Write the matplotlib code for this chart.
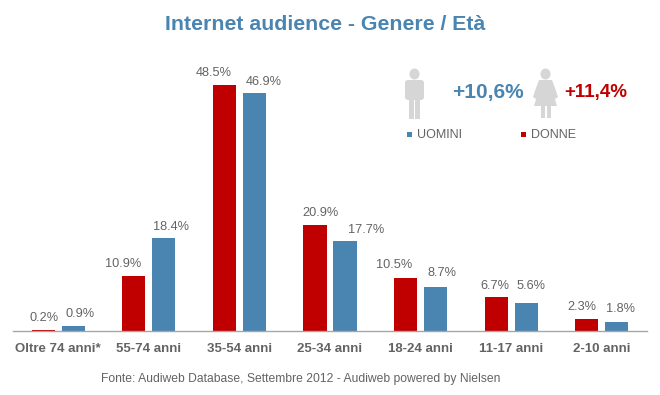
import numpy as np
import matplotlib
matplotlib.use("Agg")
import matplotlib.pyplot as plt
from matplotlib.patches import Ellipse, FancyBboxPatch, Polygon, Rectangle

plt.rcParams['font.family'] = ['Liberation Sans', 'DejaVu Sans']

categories = ['Oltre 74 anni*', '55-74 anni', '35-54 anni', '25-34 anni', '18-24 anni', '11-17 anni', '2-10 anni']
donne = [0.2, 10.9, 48.5, 20.9, 10.5, 6.7, 2.3]
uomini = [0.9, 18.4, 46.9, 17.7, 8.7, 5.6, 1.8]

RED = '#C00000'
BLUE = '#4A84B0'
GREY = '#636363'
ICON = '#D6D6D6'

# labels were moved by hand in the original, so nudge them (pixels from bar centre)
donne_dx = [1, -11, -11, 6, -11, -1, -5]
donne_dy = [6, 6, 6, 6, 7, 5, 6]
uomini_dx = [7, 7, 9, 21, 6, 5, 4]
uomini_dy = [6, 5, 5, 5, 8, 11, 7]

fig = plt.figure(figsize=(6.6, 3.95), dpi=100, facecolor='white')

# main chart, baseline at y=331 px
ax = fig.add_axes([13 / 660, (395 - 331) / 395, 634 / 660, 270 / 395])
x = np.arange(len(categories))
w = 0.256
off = 0.166
ax.bar(x - off, donne, w, color=RED)
ax.bar(x + off, uomini, w, color=BLUE)
ax.set_xlim(-0.5, 6.5)
ax.set_ylim(0, 270 / 5.07)
ax.set_yticks([])
for s in ['top', 'left', 'right']:
    ax.spines[s].set_visible(False)
ax.spines['bottom'].set_color('#A6A6A6')
ax.spines['bottom'].set_linewidth(1.0)
ax.set_xticks(x)
ax.set_xticklabels(categories, fontsize=9.5, fontweight='bold', color=GREY)
ax.tick_params(axis='x', length=0, pad=8.5)

for i in range(len(x)):
    ax.annotate(f'{donne[i]}%', (x[i] - off, donne[i]), xytext=(donne_dx[i], donne_dy[i]),
                textcoords='offset pixels', ha='center', va='bottom', fontsize=9.2, color=GREY)
    ax.annotate(f'{uomini[i]}%', (x[i] + off, uomini[i]), xytext=(uomini_dx[i], uomini_dy[i]),
                textcoords='offset pixels', ha='center', va='bottom', fontsize=9.2, color=GREY)

# overlay in pixel coords for title, icons, legend
ov = fig.add_axes([0, 0, 1, 1])
ov.set_xlim(0, 660)
ov.set_ylim(395, 0)
ov.axis('off')

ov.text(325, 25, 'Internet audience - Genere / Età', ha='center', va='center',
        fontsize=15.3, fontweight='bold', color=BLUE)
ov.text(488, 92.5, '+10,6%', ha='center', va='center', fontsize=15, fontweight='bold', color=BLUE)
ov.text(595.5, 92, '+11,4%', ha='center', va='center', fontsize=13.5, fontweight='bold', color=RED)

# man icon
ov.add_patch(Ellipse((414.5, 74), 10, 11, color=ICON, lw=0))
ov.add_patch(FancyBboxPatch((405, 80), 19, 20, boxstyle='round,pad=0,rounding_size=3', color=ICON, lw=0))
ov.add_patch(Rectangle((408.5, 85), 12, 14, color=ICON, lw=0))
ov.add_patch(Rectangle((409, 96), 5, 23, color=ICON, lw=0))
ov.add_patch(Rectangle((415, 96), 5, 23, color=ICON, lw=0))

# woman icon
ov.add_patch(Ellipse((545.5, 74), 10, 11, color=ICON, lw=0))
ov.add_patch(Polygon([(539, 80), (552, 80), (555, 88), (558, 97), (555, 99), (557, 106),
                      (534, 106), (536, 99), (533, 97), (536, 88)], color=ICON, lw=0))
ov.add_patch(Rectangle((541, 105), 4, 13, color=ICON, lw=0))
ov.add_patch(Rectangle((546.5, 105), 4, 13, color=ICON, lw=0))

# legend
ov.add_patch(Rectangle((407, 132), 5, 5, color=BLUE, lw=0))
ov.text(417, 134.5, 'UOMINI', ha='left', va='center', fontsize=9, color=GREY)
ov.add_patch(Rectangle((521, 132), 5, 5, color=RED, lw=0))
ov.text(531, 134.5, 'DONNE', ha='left', va='center', fontsize=9, color=GREY)

ov.text(301, 379, 'Fonte: Audiweb Database, Settembre 2012 - Audiweb powered by Nielsen',
        ha='center', va='center', fontsize=8.75, color=GREY)

fig.savefig('out.png', dpi=100)
